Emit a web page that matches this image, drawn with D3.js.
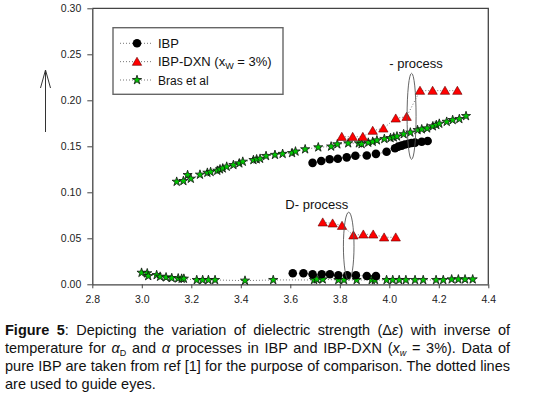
<!DOCTYPE html>
<html>
<head>
<meta charset="utf-8">
<script src="https://cdn.jsdelivr.net/npm/d3@7"></script>
<style>
  body { margin: 0; background: #fff; font-family: "Liberation Sans", Arial, sans-serif; }
  #wrap { position: relative; width: 535px; height: 394px; overflow: hidden; }
  #drawing_region { position: absolute; left: 0; top: 0; }
  #caption { position: absolute; left: 5px; top: 320.5px; width: 505px; font-size: 14.5px; line-height: 18.2px; color: #111; }
  #caption div { text-align: justify; text-align-last: justify; white-space: nowrap; }
  #caption div.last { text-align-last: left; }
  #caption sub { font-size: 9px; vertical-align: -3px; line-height: 0; }
</style>
</head>
<body>
<div id="wrap">
  <svg id="drawing_region"></svg>
  <div id="caption"></div>
</div>
<script>
// [1/T, delta eps]
const ibpAlpha = [[3.690,0.132],[3.725,0.134],[3.759,0.136],[3.792,0.1365],[3.828,0.138],[3.863,0.1397],
    [3.909,0.140],[3.946,0.1418],[3.989,0.144],[4.023,0.1478],[4.036,0.1496],[4.050,0.1507],[4.063,0.152],
    [4.077,0.1528],[4.090,0.1536],[4.104,0.154],[4.131,0.155],[4.155,0.1557]];
const ibpD = [[3.610,0.012],[3.653,0.012],[3.690,0.011],[3.727,0.011],[3.760,0.011],[3.794,0.0098],
    [3.830,0.0098],[3.865,0.0098],[3.909,0.009],[3.946,0.009]];
const dxnAlpha = [[3.808,0.1604],[3.852,0.1604],[3.893,0.1604],[3.933,0.167],[3.976,0.1695],[4.026,0.1804],
    [4.070,0.1822],[4.124,0.2105],[4.175,0.2105],[4.225,0.2105],[4.275,0.2105]];
const dxnD = [[3.731,0.0674],[3.771,0.0663],[3.809,0.0637],[3.855,0.0533],[3.895,0.0543],[3.935,0.0543],
    [3.979,0.0511],[4.026,0.0511]];
const brasAlpha = [[3.141,0.1115],[3.168,0.1123],[3.185,0.1188],[3.198,0.1148],[3.235,0.1192],[3.265,0.1213],
    [3.278,0.1221],[3.305,0.1235],[3.316,0.125],[3.327,0.126],[3.343,0.1279],[3.370,0.1297],[3.394,0.1315],
    [3.408,0.1333],[3.451,0.1351],[3.464,0.1359],[3.478,0.1365],[3.502,0.1395],[3.538,0.1407],[3.569,0.1418],
    [3.607,0.1427],[3.621,0.1444],[3.660,0.1468],[3.713,0.1489],[3.765,0.1498],[3.790,0.1522],[3.834,0.1533],
    [3.877,0.1533],[3.888,0.1525],[3.915,0.154],[3.933,0.155],[3.950,0.1565],[3.980,0.158],[4.005,0.159],
    [4.018,0.1598],[4.031,0.1608],[4.058,0.1632],[4.085,0.165],[4.114,0.1677],[4.131,0.1685],[4.153,0.1695],
    [4.176,0.1718],[4.190,0.1732],[4.202,0.1746],[4.232,0.1767],[4.256,0.1786],[4.283,0.1797],[4.310,0.1829]];
const brasD = [[2.999,0.0126],[3.022,0.012],[3.026,0.009],[3.060,0.0101],[3.074,0.0083],[3.098,0.0076],
    [3.121,0.0068],[3.147,0.0065],[3.161,0.0061],[3.170,0.0061],[3.222,0.0047],[3.246,0.0047],[3.269,0.0047],
    [3.296,0.0047],[3.417,0.004],[3.531,0.0047],[3.696,0.0047],[3.707,0.0054],[3.731,0.0054],[3.794,0.0047],
    [3.817,0.0047],[3.868,0.0047],[3.929,0.0047],[3.942,0.0047],[3.989,0.0047],[4.014,0.0047],[4.040,0.0047],
    [4.067,0.0047],[4.104,0.0047],[4.137,0.0047],[4.189,0.0047],[4.218,0.0047],[4.252,0.0054],[4.279,0.0054],
    [4.306,0.0054],[4.337,0.0054]];

const xTicks = [2.8, 3.0, 3.2, 3.4, 3.6, 3.8, 4.0, 4.2, 4.4];
const yTicks = [0, 0.05, 0.10, 0.15, 0.20, 0.25, 0.30];

const legendNames = ['IBP', 'IBP-DXN', 'Bras et al'];
// annotation ellipses: centre in data units
const ellipses = [{ cx: 4.09, cy: 0.1826, label: '- process', lx: 4.0, ly: 0.235 },
                  { cx: 3.836, cy: 0.0414, label: 'D- process', lx: 3.58, ly: 0.082 }];

const captionLines = [
    '<b>Figure 5</b>: Depicting the variation of dielectric strength (&Delta;<i>&epsilon;</i>) with inverse of',
    'temperature for <i>&alpha;</i><sub>D</sub> and <i>&alpha;</i> processes in IBP and IBP-DXN (<i>x</i><sub><i>w</i></sub> = 3%). Data of',
    'pure IBP are taken from ref [1] for the purpose of comparison. The dotted lines',
    'are used to guide eyes.'
];

const config = {
    parent: '#drawing_region',
    width: 535,
    height: 394,
    plot: { left: 92.3, right: 488.3, top: 8.3, bottom: 284.3 }
};

const svg = d3.select(config.parent)
    .attr('width', config.width)
    .attr('height', config.height);

const x = d3.scaleLinear().domain([2.8, 4.4]).range([config.plot.left, config.plot.right]);
const y = d3.scaleLinear().domain([0, 0.3]).range([config.plot.bottom, config.plot.top]);

// frame (top, right)
svg.append('path')
    .attr('d', `M${config.plot.left},${config.plot.top}H${config.plot.right}V${config.plot.bottom}`)
    .attr('fill', 'none')
    .attr('stroke', '#444')
    .attr('stroke-width', 1.3);

const xAxis = svg.append('g')
    .attr('transform', `translate(0,${config.plot.bottom})`)
    .call(d3.axisBottom(x).tickValues(xTicks).tickFormat(d3.format('.1f')).tickSize(4).tickSizeOuter(0).tickPadding(7));

const yAxis = svg.append('g')
    .attr('transform', `translate(${config.plot.left},0)`)
    .call(d3.axisLeft(y).tickValues(yTicks).tickFormat(d3.format('.2f')).tickSize(5).tickSizeOuter(0).tickPadding(6));

[xAxis, yAxis].forEach(g => {
    g.select('.domain').attr('stroke', '#444').attr('stroke-width', 1.3);
    g.selectAll('.tick line').attr('stroke', '#444');
    g.selectAll('.tick text')
        .attr('fill', '#222')
        .style('font-family', '"Liberation Sans", Arial, sans-serif')
        .style('font-size', '10.5px');
});

// y "axis title" arrow
svg.append('path')
    .attr('d', 'M45.5,132V70M40.5,88L45.5,70L50.5,88')
    .attr('fill', 'none')
    .attr('stroke', '#333')
    .attr('stroke-width', 1);

const line = d3.line().x(d => x(d[0])).y(d => y(d[1]));

const series = [
    { data: brasAlpha, type: 'star' }, { data: brasD, type: 'star' },
    { data: ibpAlpha, type: 'circle' }, { data: ibpD, type: 'circle' },
    { data: dxnAlpha, type: 'tri' }, { data: dxnD, type: 'tri' }
];

// dotted guide lines
svg.selectAll('path.guide')
    .data(series)
    .enter()
    .append('path')
    .attr('class', 'guide')
    .attr('d', d => line(d.data))
    .attr('fill', 'none')
    .attr('stroke', '#666')
    .attr('stroke-width', 0.9)
    .attr('stroke-dasharray', '1,2');

const star = d3.symbol().type(d3.symbolStar).size(26);
const tri = d3.symbol().type(d3.symbolTriangle).size(38);

function drawMarkers(g, type, pts) {
    if (type === 'circle') {
        g.selectAll('circle').data(pts).enter().append('circle')
            .attr('cx', d => x(d[0])).attr('cy', d => y(d[1]))
            .attr('r', 4.3).attr('fill', '#000');
    } else if (type === 'tri') {
        g.selectAll('path').data(pts).enter().append('path')
            .attr('d', tri)
            .attr('transform', d => `translate(${x(d[0])},${y(d[1]) + 1})`)
            .attr('fill', '#ff0000').attr('stroke', '#600').attr('stroke-width', 0.6);
    } else {
        g.selectAll('path').data(pts).enter().append('path')
            .attr('d', star)
            .attr('transform', d => `translate(${x(d[0])},${y(d[1])})`)
            .attr('fill', '#00c800').attr('stroke', '#111').attr('stroke-width', 0.8);
    }
}

series.forEach(s => drawMarkers(svg.append('g'), s.type, s.data));

// ellipses + labels
const ann = svg.append('g');
ann.selectAll('ellipse').data(ellipses).enter().append('ellipse')
    .attr('cx', d => x(d.cx)).attr('cy', d => y(d.cy))
    .attr('rx', (d, i) => i === 0 ? 4.5 : 5.3)
    .attr('ry', (d, i) => i === 0 ? 43 : 34)
    .attr('fill', 'none').attr('stroke', '#555').attr('stroke-width', 0.9);
ann.selectAll('text').data(ellipses).enter().append('text')
    .attr('x', d => x(d.lx)).attr('y', d => y(d.ly))
    .text(d => d.label)
    .attr('fill', '#111')
    .style('font-family', '"Liberation Sans", Arial, sans-serif')
    .style('font-size', '13px');

// legend
const legend = svg.append('g');
legend.append('rect')
    .attr('x', 113).attr('y', 27.7).attr('width', 170).attr('height', 66.6)
    .attr('fill', '#fff').attr('stroke', '#666').attr('stroke-width', 1.4);

const legendRows = [{ name: legendNames[0], type: 'circle' }, { name: legendNames[1], type: 'tri' }, { name: legendNames[2], type: 'star' }];
const ly = d3.scalePoint().domain(legendNames).range([43.3, 80]);

legendRows.forEach(r => {
    const g = legend.append('g').attr('transform', `translate(0,${ly(r.name)})`);
    g.append('path').attr('d', 'M120,0H153')
        .attr('stroke', '#666').attr('stroke-width', 0.9).attr('stroke-dasharray', '1,2');
    const m = g.append('g').attr('transform', 'translate(137,0)');
    if (r.type === 'circle') m.append('circle').attr('r', 4.3).attr('fill', '#000');
    else if (r.type === 'tri') m.append('path').attr('d', tri).attr('transform', 'translate(0,1)')
        .attr('fill', '#ff0000').attr('stroke', '#600').attr('stroke-width', 0.6);
    else m.append('path').attr('d', star).attr('fill', '#00c800').attr('stroke', '#111').attr('stroke-width', 0.8);

    const t = g.append('text').attr('x', 158).attr('y', 4.7)
        .attr('fill', '#111')
        .style('font-family', '"Liberation Sans", Arial, sans-serif')
        .style('font-size', r.type === 'star' ? '12px' : '13px');
    t.append('tspan').text(r.name);
    if (r.type === 'tri') {
        t.append('tspan').text(' (x');
        t.append('tspan').text('W').attr('dy', 3).style('font-size', '9px');
        t.append('tspan').text(' = 3%)').attr('dy', -3);
    }
});

// caption
d3.select('#caption').selectAll('div')
    .data(captionLines)
    .enter()
    .append('div')
    .attr('class', (d, i) => i === captionLines.length - 1 ? 'last' : null)
    .html(d => d);
</script>
</body>
</html>
